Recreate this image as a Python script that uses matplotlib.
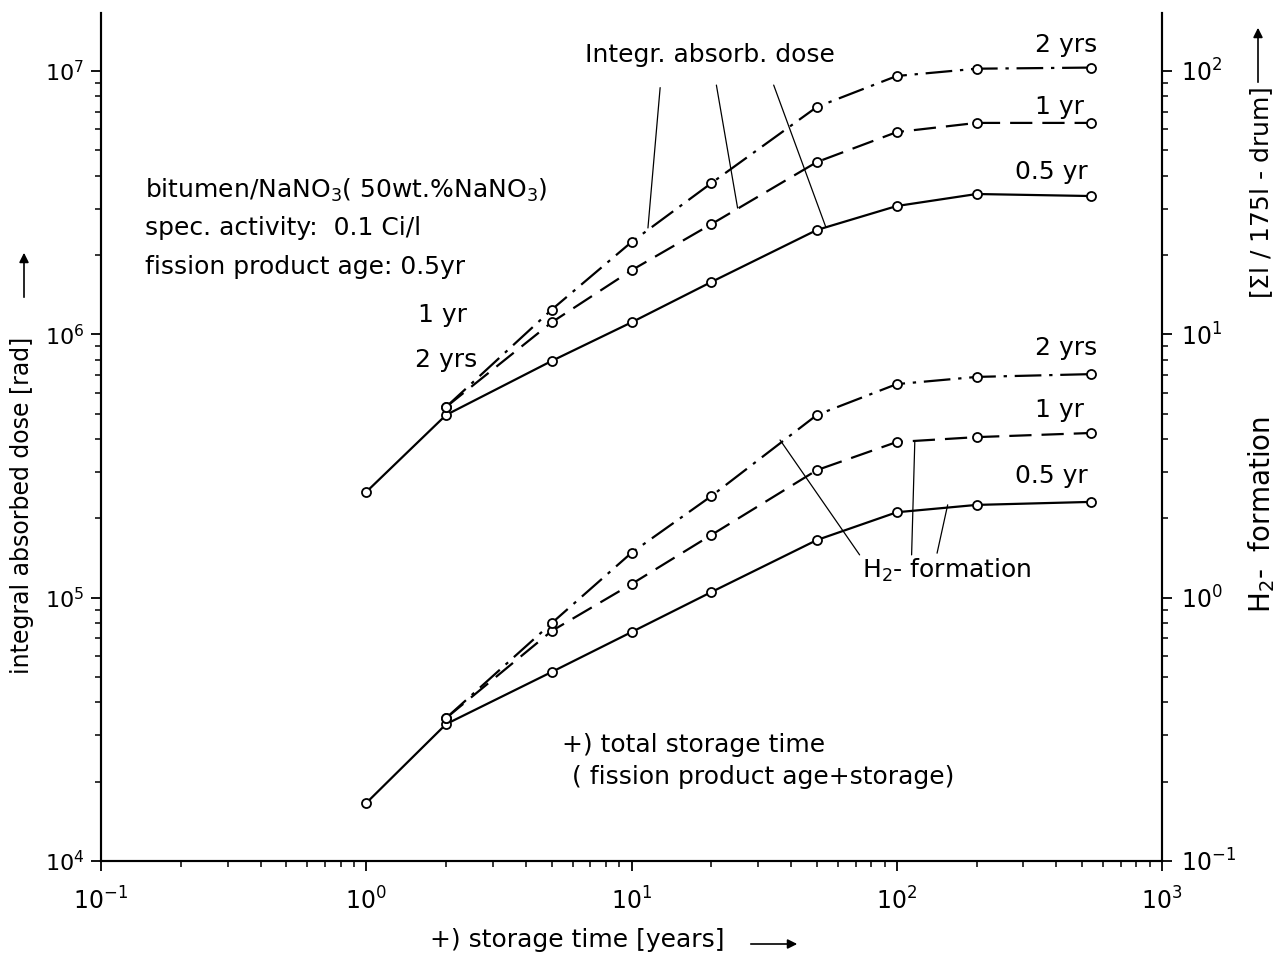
import matplotlib
matplotlib.use("Agg")
import matplotlib.pyplot as plt

plt.rcParams["font.family"] = ["DejaVu Sans"]
plt.rcParams["mathtext.fontset"] = "dejavusans"

# total storage time [years]
t_05 = [1, 2, 5, 10, 20, 50, 100, 200, 540]
t_1 = [2, 5, 10, 20, 50, 100, 200, 540]
t_2 = [2, 5, 10, 20, 50, 100, 200, 540]

# integral absorbed dose [rad]
dose_05 = [2.52e5, 4.94e5, 7.92e5, 1.11e6, 1.58e6, 2.49e6, 3.07e6, 3.41e6, 3.35e6]
dose_1 = [5.30e5, 1.11e6, 1.75e6, 2.62e6, 4.51e6, 5.86e6, 6.35e6, 6.35e6]
dose_2 = [5.30e5, 1.24e6, 2.24e6, 3.75e6, 7.30e6, 9.57e6, 1.02e7, 1.03e7]

# H2 formation [l / 175 l drum]
h2_05 = [0.166, 0.331, 0.522, 0.740, 1.05, 1.655, 2.11, 2.25, 2.31]
h2_1 = [0.349, 0.747, 1.126, 1.73, 3.05, 3.90, 4.07, 4.22]
h2_2 = [0.349, 0.80, 1.48, 2.43, 4.94, 6.47, 6.89, 7.06]

fig = plt.figure(figsize=(12.86, 9.58), dpi=100)
ax = fig.add_axes([101 / 1286, 1 - 861 / 958, 1061 / 1286, 848 / 958])
ax2 = ax.twinx()

line_kw = dict(color="black", lw=1.6, marker="o", ms=6.5, mfc="white", mec="black", mew=1.3)
styles = [
    (t_05, dose_05, h2_05, dict(ls="-")),
    (t_1, dose_1, h2_1, dict(dashes=[10, 4.5])),
    (t_2, dose_2, h2_2, dict(dashes=[12, 3.5, 1.5, 3.5])),
]
for t, d, h, st in styles:
    ax.plot(t, d, **line_kw, **st)
    ax2.plot(t, h, **line_kw, **st)

ax.set_xscale("log")
ax.set_yscale("log")
ax2.set_yscale("log")
ax.set_xlim(0.1, 1000)
ax.set_ylim(1e4, 1.66e7)
ax2.set_ylim(1e-1, 1.66e2)

for a in (ax, ax2):
    a.spines["top"].set_visible(False)
    for s in a.spines.values():
        s.set_linewidth(1.5)
    a.tick_params(which="major", direction="out", length=7, width=1.3, labelsize=17, pad=7)
    a.tick_params(which="minor", direction="out", length=4, width=1.1)
ax.tick_params(axis="y", labelsize=16, pad=5)
ax.tick_params(axis="x", pad=12)

fs = 18
txt = dict(fontsize=fs, transform=ax.transAxes, va="center", ha="left")

ax.text(0.456, 0.950, "Integr. absorb. dose", **txt)
ax.text(0.880, 0.962, "2 yrs", **txt)
ax.text(0.880, 0.889, "1 yr", **txt)
ax.text(0.861, 0.8125, "0.5 yr", **txt)
ax.text(0.880, 0.605, "2 yrs", **txt)
ax.text(0.880, 0.532, "1 yr", **txt)
ax.text(0.861, 0.454, "0.5 yr", **txt)
ax.text(0.717, 0.343, "H$_2$- formation", **txt)

ax.text(0.0415, 0.791, "bitumen/NaNO$_3$( 50wt.%NaNO$_3$)", **txt)
ax.text(0.0415, 0.746, "spec. activity:  0.1 Ci/l", **txt)
ax.text(0.0415, 0.700, "fission product age: 0.5yr", **txt)
ax.text(0.299, 0.644, "1 yr", **txt)
ax.text(0.296, 0.591, "2 yrs", **txt)

ax.text(0.4345, 0.137, "+) total storage time", **txt)
ax.text(0.444, 0.099, "( fission product age+storage)", **txt)

# leader lines from the labels to the curves
leaders = [
    ((0.527, 0.912), (0.5155, 0.7465)),
    ((0.580, 0.915), (0.600, 0.770)),
    ((0.634, 0.915), (0.683, 0.748)),
    ((0.715, 0.361), (0.640, 0.4965)),
    ((0.764, 0.361), (0.767, 0.494)),
    ((0.788, 0.363), (0.798, 0.420)),
]
for start, end in leaders:
    ax.annotate("", xy=end, xytext=start, xycoords="axes fraction", textcoords="axes fraction",
                arrowprops=dict(arrowstyle="-", lw=0.9, color="black", shrinkA=0, shrinkB=0))

arrow_kw = dict(arrowstyle="-|>", lw=1.2, color="black", mutation_scale=14)

# axis titles with arrows
fig.text(22 / 1286, 1 - 505 / 958, "integral absorbed dose [rad]", rotation=90,
         fontsize=17, ha="center", va="center")
ax.annotate("", xy=(24 / 1286, 1 - 250 / 958), xytext=(24 / 1286, 1 - 300 / 958),
            xycoords="figure fraction", textcoords="figure fraction", arrowprops=arrow_kw)

fig.text(1262 / 1286, 1 - 515 / 958, "H$_2$-  formation", rotation=90,
         fontsize=20, ha="center", va="center")
fig.text(1262 / 1286, 1 - 193 / 958, "[$\\Sigma$l / 175l - drum]", rotation=90,
         fontsize=fs, ha="center", va="center")
ax.annotate("", xy=(1258 / 1286, 1 - 25 / 958), xytext=(1258 / 1286, 1 - 85 / 958),
            xycoords="figure fraction", textcoords="figure fraction", arrowprops=arrow_kw)

fig.text(577 / 1286, 1 - 940 / 958, "+) storage time [years]", fontsize=fs, ha="center", va="center")
ax.annotate("", xy=(800 / 1286, 1 - 944 / 958), xytext=(748 / 1286, 1 - 944 / 958),
            xycoords="figure fraction", textcoords="figure fraction", arrowprops=arrow_kw)

fig.savefig("out.png", dpi=100)
